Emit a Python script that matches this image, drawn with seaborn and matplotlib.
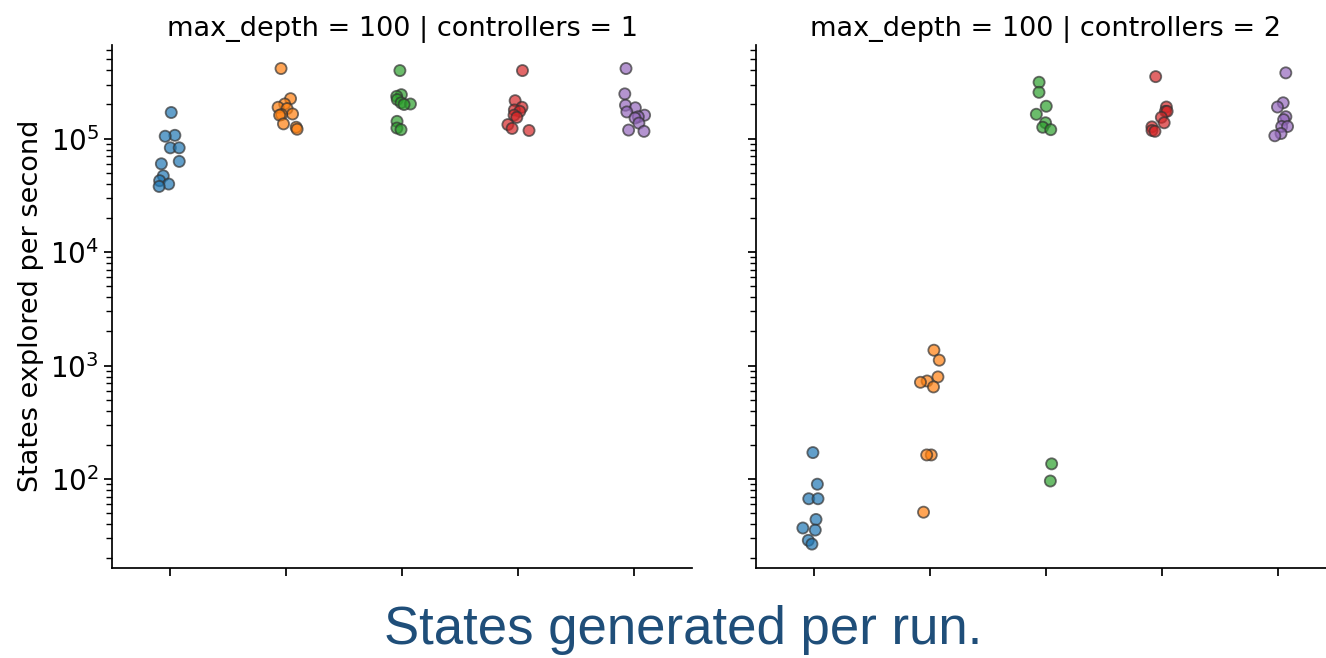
import numpy as np
import pandas as pd
import seaborn as sns
import matplotlib
matplotlib.use("Agg")
import matplotlib.pyplot as plt

categories = ["10", "100", "1000", "10000", "100000"]

# controllers = 1
c1_a = [170e3, 107e3, 105e3, 83e3, 83e3, 63e3, 60e3, 47e3, 42.6e3, 39.8e3, 37.9e3]
c1_b = [415e3, 225e3, 202e3, 189e3, 184e3, 165e3, 163e3, 161e3, 135e3, 126e3, 121e3]
c1_c = [398e3, 244e3, 236e3, 221e3, 207e3, 202e3, 200e3, 142e3, 124e3, 120e3]
c1_d = [398e3, 216e3, 189e3, 179e3, 174e3, 161e3, 154e3, 133e3, 123e3, 118e3]
c1_e = [415e3, 248e3, 197e3, 187e3, 172e3, 161e3, 156e3, 152e3, 137e3, 119e3, 116e3]

# controllers = 2
c2_a = [171, 90, 67, 67, 44, 37, 35.5, 28.8, 26.7]
c2_b = [1365, 1115, 794, 731, 712, 648, 163, 163, 51]
c2_c = [314e3, 256e3, 193e3, 164e3, 138e3, 126e3, 120e3, 136, 96]
c2_d = [352e3, 190e3, 174e3, 174e3, 154e3, 138e3, 127e3, 118e3, 116e3]
c2_e = [380e3, 207e3, 190e3, 156e3, 147e3, 128e3, 128e3, 111e3, 106e3]

controllers = [1, 2]
max_depth = [100]

rows = []
for ctrl, series in zip(controllers, [[c1_a, c1_b, c1_c, c1_d, c1_e],
                                      [c2_a, c2_b, c2_c, c2_d, c2_e]]):
    for cat, vals in zip(categories, series):
        for v in vals:
            rows.append({"max_depth": max_depth[0], "controllers": ctrl,
                         "states": cat, "rate": v})
df = pd.DataFrame(rows)

sns.set_theme(style="ticks", rc={"text.color": "black", "axes.labelcolor": "black",
                                 "xtick.color": "black", "ytick.color": "black",
                                 "axes.edgecolor": "black"})
plt.rcParams["font.family"] = ["DejaVu Sans"]

np.random.seed(3)
g = sns.catplot(data=df, x="states", y="rate", hue="states", row="max_depth",
                col="controllers", kind="strip", order=categories,
                hue_order=categories, palette="tab10", legend=False,
                size=8, alpha=0.7, linewidth=1.3, edgecolor="#333333",
                jitter=True, height=5, aspect=1.1)
g.set(yscale="log")
g.figure.set_size_inches(13.26, 6.58)
g.figure.subplots_adjust(left=0.0845, right=1.0075, top=0.932, bottom=0.137,
                         wspace=0.11)
g.set_titles("{row_var} = {row_name} | {col_var} = {col_name}", size=19.5)
g.set_axis_labels("", "States explored per second", fontsize=19.5)
for ax in g.axes.flat:
    ax.set_xticklabels([])
    ax.tick_params(axis="y", labelsize=20)
    ax.tick_params(axis="x", length=6)
g.figure.text(0.515, 0.043, "States generated per run.", ha="center",
              va="center", fontsize=38, color="#1F4E79",
              family="Liberation Sans")
g.figure.savefig("out.png", dpi=100)
